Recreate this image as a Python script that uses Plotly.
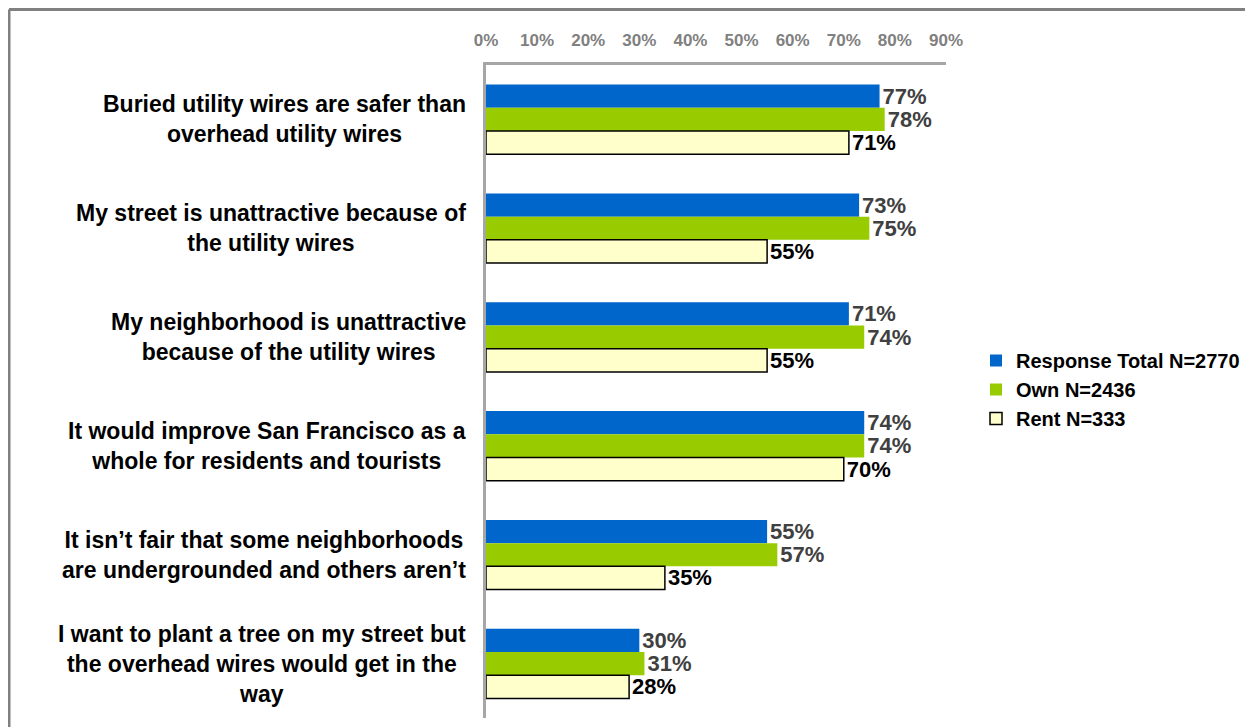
import plotly.graph_objects as go

categories = [
    "Buried utility wires are safer than<br>overhead utility wires",
    "My street is unattractive because of<br>the utility wires",
    "My neighborhood is unattractive<br>because of the utility wires",
    "It would improve San Francisco as a<br>whole for residents and tourists",
    "It isn\u2019t fair that some neighborhoods<br>are undergrounded and others aren\u2019t",
    "I want to plant a tree on my street but<br>the overhead wires would get in the<br>way",
]
total = [0.77, 0.73, 0.71, 0.74, 0.55, 0.30]
own = [0.78, 0.75, 0.74, 0.74, 0.57, 0.31]
rent = [0.71, 0.55, 0.55, 0.70, 0.35, 0.28]
series_names = ["Response Total N=2770", "Own N=2436", "Rent N=333"]
tick_vals = [0.0, 0.1, 0.2, 0.3, 0.4, 0.5, 0.6, 0.7, 0.8, 0.9]

FONT = "Liberation Sans, Arial, sans-serif"
W, H = 1253, 727
# figure-pixel layout (page has an 8px body margin)
L, R, T, B = 478, W - 938, 57, H - 710
PW, PH = W - L - R, H - T - B

def px_x(p):
    return (p - L) / PW

def px_y(p):
    return (H - B - p) / PH

fig = go.Figure()
styles = [
    dict(color="#0066CC", line=dict(width=0), tc="#404040"),
    dict(color="#99CC00", line=dict(width=0), tc="#404040"),
    dict(color="#FFFFCC", line=dict(width=1.5, color="#000000"), tc="#000000"),
]
for name, vals, st in zip(series_names, [total, own, rent], styles):
    fig.add_trace(go.Bar(
        y=categories, x=vals, orientation="h", name=name,
        legendgroup=name,
        marker=dict(color=st["color"], line=st["line"]),
        text=[f"{round(v*100)}%" for v in vals],
        textposition="outside", cliponaxis=False, constraintext="none",
        textfont=dict(family=FONT, size=22, color=st["tc"], weight="bold"),
        hoverinfo="skip",
    ))

for cat in categories:
    fig.add_annotation(
        x=px_x(460), xref="paper", y=cat, yref="y",
        xanchor="right", yanchor="middle", align="center",
        text=cat, showarrow=False,
        font=dict(family=FONT, size=23, color="#000000", weight="bold"),
    )

# outer frame
fig.add_shape(type="line", xref="paper", yref="paper",
              x0=px_x(1), x1=px_x(1300), y0=px_y(1.5), y1=px_y(1.5),
              line=dict(color="#808080", width=3))
fig.add_shape(type="line", xref="paper", yref="paper",
              x0=px_x(1), x1=px_x(1), y0=px_y(1.5), y1=px_y(760),
              line=dict(color="#808080", width=3))

fig.update_layout(
    width=W, height=H,
    margin=dict(l=L, r=R, t=T, b=B),
    paper_bgcolor="white", plot_bgcolor="white",
    barmode="group", bargap=0.36, bargroupgap=0,
    showlegend=True,
    legend=dict(
        x=px_x(968), y=px_y(333), xanchor="left", yanchor="top",
        traceorder="grouped", tracegroupgap=0, itemwidth=30,
        font=dict(family=FONT, size=20, color="#000000", weight="bold"),
        bgcolor="rgba(0,0,0,0)",
    ),
    xaxis=dict(
        side="top", range=[0, 0.9], tickvals=tick_vals, tickformat=".0%",
        showgrid=False, zeroline=False, showline=True,
        linecolor="#A6A6A6", linewidth=3,
        ticks="outside", ticklen=9, tickcolor="rgba(0,0,0,0)",
        tickfont=dict(family=FONT, size=17, color="#808080", weight="bold"),
    ),
    yaxis=dict(
        autorange="reversed", showticklabels=False, showgrid=False,
        zeroline=False, showline=True, linecolor="#A6A6A6", linewidth=3,
        ticks="",
    ),
)

fig.write_html("out.html")
